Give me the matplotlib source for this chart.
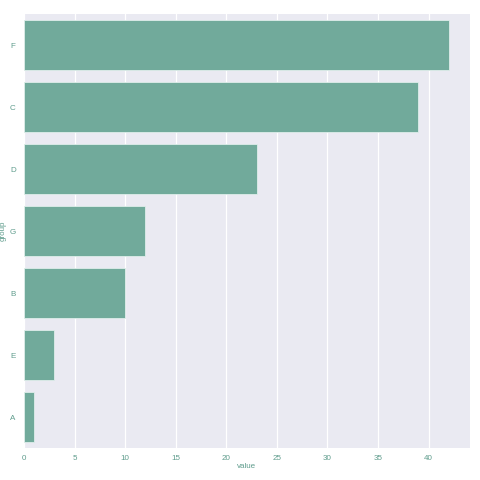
import matplotlib
matplotlib.use("Agg")
import matplotlib.pyplot as plt

# data, top to bottom
groups = ["F", "C", "D", "G", "B", "E", "A"]
values = [42, 39, 23, 12, 10, 3, 1]
xticks = [0, 5, 10, 15, 20, 25, 30, 35, 40]

bar_color = "#71aa9b"
text_color = "#5e9c8c"

plt.rcParams["font.family"] = ["Liberation Sans", "DejaVu Sans"]

fig = plt.figure(figsize=(4.8, 4.8), dpi=100)
ax = fig.add_axes([24 / 480, 32 / 480, 446 / 480, 434 / 480])
ax.set_facecolor("#eaeaf2")

ypos = list(range(len(groups)))
ax.barh(ypos, values, height=0.8, color=bar_color,
        edgecolor="#dfeeea", linewidth=0.6, zorder=2)

ax.set_yticks(ypos)
ax.set_yticklabels(groups)
ax.set_ylim(len(groups) - 0.5, -0.5)
ax.set_xlim(0, max(values) * 1.05)
ax.set_xticks(xticks)

ax.grid(axis="x", color="white", linewidth=0.9, zorder=0)
ax.set_axisbelow(True)
for s in ax.spines.values():
    s.set_visible(False)
ax.tick_params(length=0, labelsize=5.8, labelcolor=text_color)
ax.tick_params(axis="x", pad=5)
ax.tick_params(axis="y", pad=6)

ax.set_xlabel("value", fontsize=5.8, color=text_color, labelpad=1)
ax.set_ylabel("group", fontsize=5.8, color=text_color)
ax.yaxis.set_label_coords(-17 / 446, 0.5)

fig.savefig("out.png", dpi=100)
